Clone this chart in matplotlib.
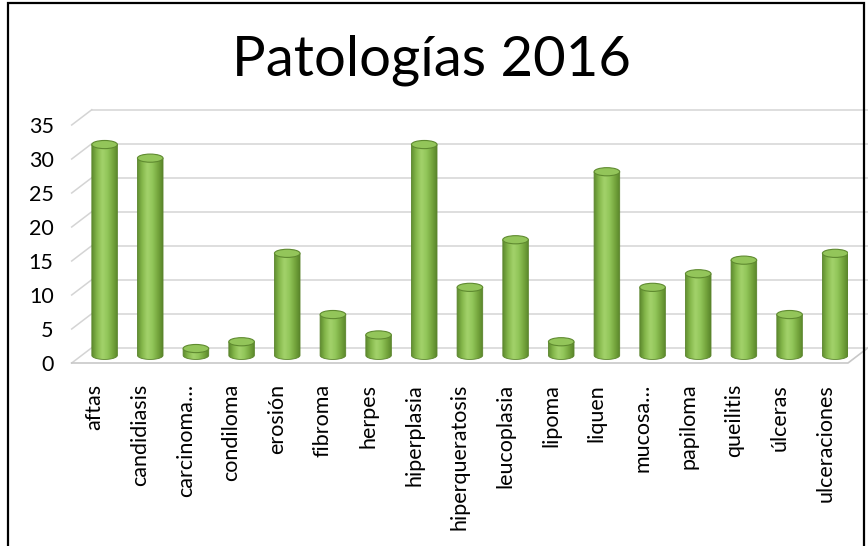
import matplotlib
matplotlib.use('Agg')
import matplotlib.pyplot as plt
import numpy as np
from matplotlib.patches import Ellipse, PathPatch, Rectangle
from matplotlib.path import Path
from matplotlib.colors import LinearSegmentedColormap

plt.rcParams['font.family'] = ['Lato', 'DejaVu Sans']

# datos
categorias = ['aftas', 'candidiasis', 'carcinoma…', 'condiloma', 'erosión', 'fibroma',
              'herpes', 'hiperplasia', 'hiperqueratosis', 'leucoplasia', 'lipoma',
              'liquen', 'mucosa…', 'papiloma', 'queilitis', 'úlceras', 'ulceraciones']
valores = [31, 29, 1, 2, 15, 6, 3, 31, 10, 17, 2, 27, 10, 12, 14, 6, 15]
y_ticks = [0, 5, 10, 15, 20, 25, 30, 35]
titulo = 'Patologías 2016'

W, H = 868, 546
fig = plt.figure(figsize=(W / 100, H / 100), dpi=100)
ax = fig.add_axes([71.7 / W, (H - 363) / H, (848 - 71.7) / W, (363 - 125) / H])
n = len(categorias)
ax.set_xlim(-0.5, n - 0.5)
ax.set_ylim(0, 35)
for s in ax.spines.values():
    s.set_visible(False)

# profundidad (pseudo 3D)
dx, dy = 0.44, 2.25
grid_col = '#d4d4d4'

# pared del fondo y líneas diagonales
for v in y_ticks:
    ax.plot([-0.5 + dx, n - 0.5 + dx], [v + dy, v + dy], color=grid_col, lw=1.1, clip_on=False, zorder=1)
    ax.plot([-0.5, -0.5 + dx], [v, v + dy], color=grid_col, lw=1.1, clip_on=False, zorder=1)
# piso
ax.plot([-0.5, n - 0.5, n - 0.5 + dx], [0, 0, dy], color='#c8c8c8', lw=1.2, clip_on=False, zorder=1)

# cilindros
cmap = LinearSegmentedColormap.from_list('verde', ['#5f8c2f', '#86b94c', '#a3d26b', '#92c65a', '#77a83f', '#5a862b'])
grad = np.linspace(0, 1, 64).reshape(1, -1)
hw = 0.28
eh = 1.2
t = np.linspace(np.pi, 2 * np.pi, 40)
for i, v in enumerate(valores):
    cx = i + dx / 2
    base = dy / 2
    top = v + dy / 2
    # cuerpo con borde inferior curvo
    xs = np.concatenate([[cx - hw], cx + hw * np.cos(t), [cx + hw]])
    ys = np.concatenate([[top], base + (eh / 2) * np.sin(t), [top]])
    body = Path(np.column_stack([xs, ys]))
    patch = PathPatch(body, facecolor='none', edgecolor='#5a842c', lw=0.6, zorder=3)
    ax.add_patch(patch)
    im = ax.imshow(grad, cmap=cmap, extent=[cx - hw, cx + hw, base - eh, top], aspect='auto',
                   origin='lower', zorder=2, interpolation='bicubic')
    im.set_clip_path(patch)
    # tapa superior
    ax.add_patch(Ellipse((cx, top), 2 * hw, eh, facecolor='#93c55a', edgecolor='#5f8a30', lw=0.8, zorder=4))

ax.set_xlim(-0.5, n - 0.5)
ax.set_ylim(0, 35)

ax.set_yticks(y_ticks)
ax.set_yticklabels([str(v) for v in y_ticks], fontsize=15.5)
ax.set_xticks(range(n))
ax.set_xticklabels(categorias, rotation=90, fontsize=15.5)
ax.tick_params(axis='both', length=0)
ax.tick_params(axis='y', pad=13)
ax.tick_params(axis='x', pad=15)

fig.text(432 / W, 1 - 75 / H, titulo, ha='center', va='baseline', fontsize=40.5)

# marco
fig.add_artist(Rectangle((8 / W, -0.2), (864 - 8) / W, 1.2 - 2.5 / H, transform=fig.transFigure,
                         fill=False, edgecolor='black', lw=1.6))

fig.savefig('out.png', dpi=100)
